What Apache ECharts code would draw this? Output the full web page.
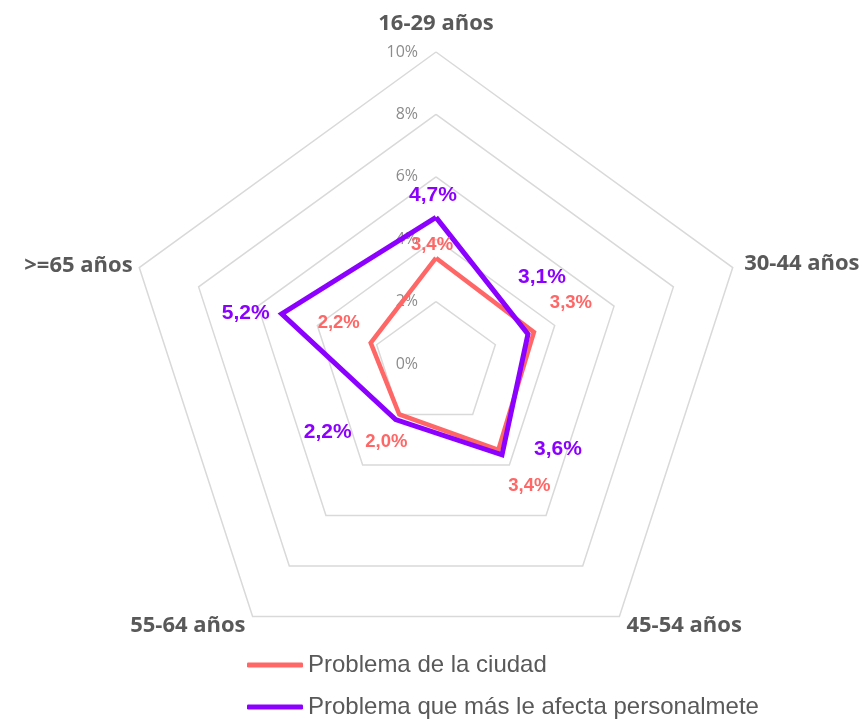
<!DOCTYPE html>
<html>
<head>
<meta charset="utf-8">
<script src="https://cdn.jsdelivr.net/npm/echarts@6/dist/echarts.min.js"></script>
<style>
html, body { margin: 0; padding: 0; background: #fff; }
#chart { width: 868px; height: 719px; }
</style>
</head>
<body>
<div id="chart"></div>
<script>
(function(){
    var categories = ['16-29 años', '30-44 años', '45-54 años', '55-64 años', '>=65 años'];
    var seriesNames = ['Problema de la ciudad', 'Problema que más le afecta personalmete'];
    var ciudad = [3.4, 3.3, 3.4, 2.0, 2.2];
    var personal = [4.7, 3.1, 3.6, 2.2, 5.2];
    var tickMax = 10;

    var colors = ['#FF6666', '#8B00FF'];
    // radar runs counter-clockwise, the original goes clockwise
    var order = [0, 4, 3, 2, 1];
    // label offsets (px) from each vertex, as placed in the original (category order)
    var labelOffsets = [
        [[-4, -13], [37, -29], [31, 36], [-13, 27], [-32, -20]],
        [[-3, -22], [14, -57], [56, -6], [-68, 13], [-36, -1]]
    ];
    var nameGaps = [17, 12, 12, 12, 7];
    var labelSizes = [18.5, 21];
    var values = [ciudad, personal];

    function fmt(v){ return v.toFixed(1).replace('.', ',') + '%'; }
    function reorder(arr){ return order.map(function(k){ return arr[k]; }); }

    var indicator = order.map(function(k, d){
        var o = { name: categories[k], max: tickMax, min: 0, nameGap: nameGaps[k] };
        if (d === 0) { o.axisLabel = { show: true }; }
        return o;
    });

    var series = [];
    values.forEach(function(vals, s){
        series.push({
            type: 'radar',
            name: seriesNames[s],
            z: 2 + s,
            symbol: 'none',
            silent: true,
            lineStyle: { color: colors[s], width: s === 1 ? 5 : 4.5, join: 'miter' },
            itemStyle: { color: colors[s] },
            data: [{ name: seriesNames[s], value: reorder(vals) }]
        });
    });

    // one invisible item per vertex just to carry the data label
    var labelData = [];
    values.forEach(function(vals, s){
        order.forEach(function(k, d){
            labelData.push({
                value: reorder(vals),
                label: {
                    show: true,
                    position: 'inside',
                    offset: labelOffsets[s][k],
                    color: colors[s],
                    fontSize: labelSizes[s],
                    fontWeight: 'bold',
                    fontFamily: 'Liberation Sans, Arial, sans-serif',
                    formatter: function(p){
                        return p.dimensionIndex === d ? fmt(vals[k]) : '';
                    }
                }
            });
        });
    });
    series.push({
        type: 'radar',
        name: 'labels',
        z: 10,
        silent: true,
        symbol: 'circle',
        symbolSize: 1,
        itemStyle: { color: 'rgba(0,0,0,0)' },
        lineStyle: { width: 0, opacity: 0 },
        data: labelData
    });

    var myChart = echarts.init(document.getElementById('chart'));
    myChart.setOption({
        animation: false,
        color: colors,
        legend: {
            data: seriesNames,
            orient: 'vertical',
            left: 247,
            top: 653,
            height: 80,
            padding: 0,
            itemWidth: 56,
            itemHeight: 5,
            itemGap: 18,
            icon: 'roundRect',
            selectedMode: false,
            textStyle: {
                color: '#595959',
                fontSize: 24,
                lineHeight: 24,
                fontFamily: 'Liberation Sans, Arial, sans-serif'
            }
        },
        radar: {
            center: [436, 364],
            radius: 312,
            shape: 'polygon',
            splitNumber: 5,
            startAngle: 90,
            axisName: {
                color: '#595959',
                fontSize: 22,
                fontWeight: 'bold',
                fontFamily: 'Open Sans, sans-serif'
            },
            axisLine: { show: false },
            axisTick: { show: false },
            splitArea: { show: false },
            splitLine: { lineStyle: { color: '#d9d9d9', width: 1.5 } },
            axisLabel: {
                show: false,
                color: '#8c8c8c',
                fontSize: 16,
                margin: 18,
                fontFamily: 'Open Sans, sans-serif',
                formatter: '{value}%'
            },
            indicator: indicator
        },
        series: series
    });
}());
</script>
</body>
</html>
